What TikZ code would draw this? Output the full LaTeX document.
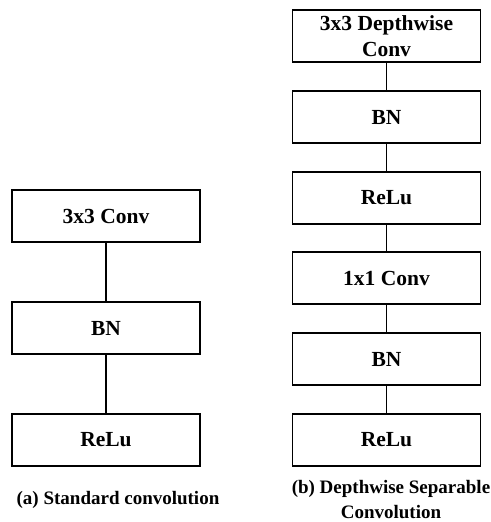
\documentclass[tikz,border=0pt]{standalone}
\usepackage{fontspec}
\setmainfont{Liberation Serif}
\usepackage{tikz}
\usetikzlibrary{positioning}

\begin{document}
\begin{tikzpicture}[
    x=1pt, y=-1pt,
    layer/.style={rectangle, draw=black, line width=1.4pt, fill=white, minimum width=188pt, minimum height=52pt, inner sep=1pt, align=center, font=\fontsize{21.5}{26}\selectfont\bfseries},
    link/.style={line width=1.2pt, color=black},
    caption/.style={align=center, font=\fontsize{19}{25}\selectfont\bfseries}
]
\useasboundingbox (0,0) rectangle (490,522);

% Standard convolution
\node[layer] (conv) at (106,216) {3x3 Conv};
\node[layer] (bn) at (106,328) {BN};
\node[layer] (relu) at (106,440) {ReLu};
\node[caption] (capa) at (118,500) {(a) Standard convolution};

% Depthwise separable convolution
\node[layer] (dwconv) at (386.5,36) {3x3 Depthwise\\Conv};
\node[layer] (bnA) at (386.5,117) {BN};
\node[layer] (reluA) at (386.5,198) {ReLu};
\node[layer] (pwconv) at (386.5,278) {1x1 Conv};
\node[layer] (bnB) at (386.5,359) {BN};
\node[layer] (reluB) at (386.5,440) {ReLu};
\node[caption] (capb) at (391,500) {(b) Depthwise Separable\\Convolution};

% Links
\draw[link] (conv) -- (bn);
\draw[link] (bn) -- (relu);
\draw[link] (dwconv) -- (bnA);
\draw[link] (bnA) -- (reluA);
\draw[link] (reluA) -- (pwconv);
\draw[link] (pwconv) -- (bnB);
\draw[link] (bnB) -- (reluB);

\end{tikzpicture}
\end{document}
